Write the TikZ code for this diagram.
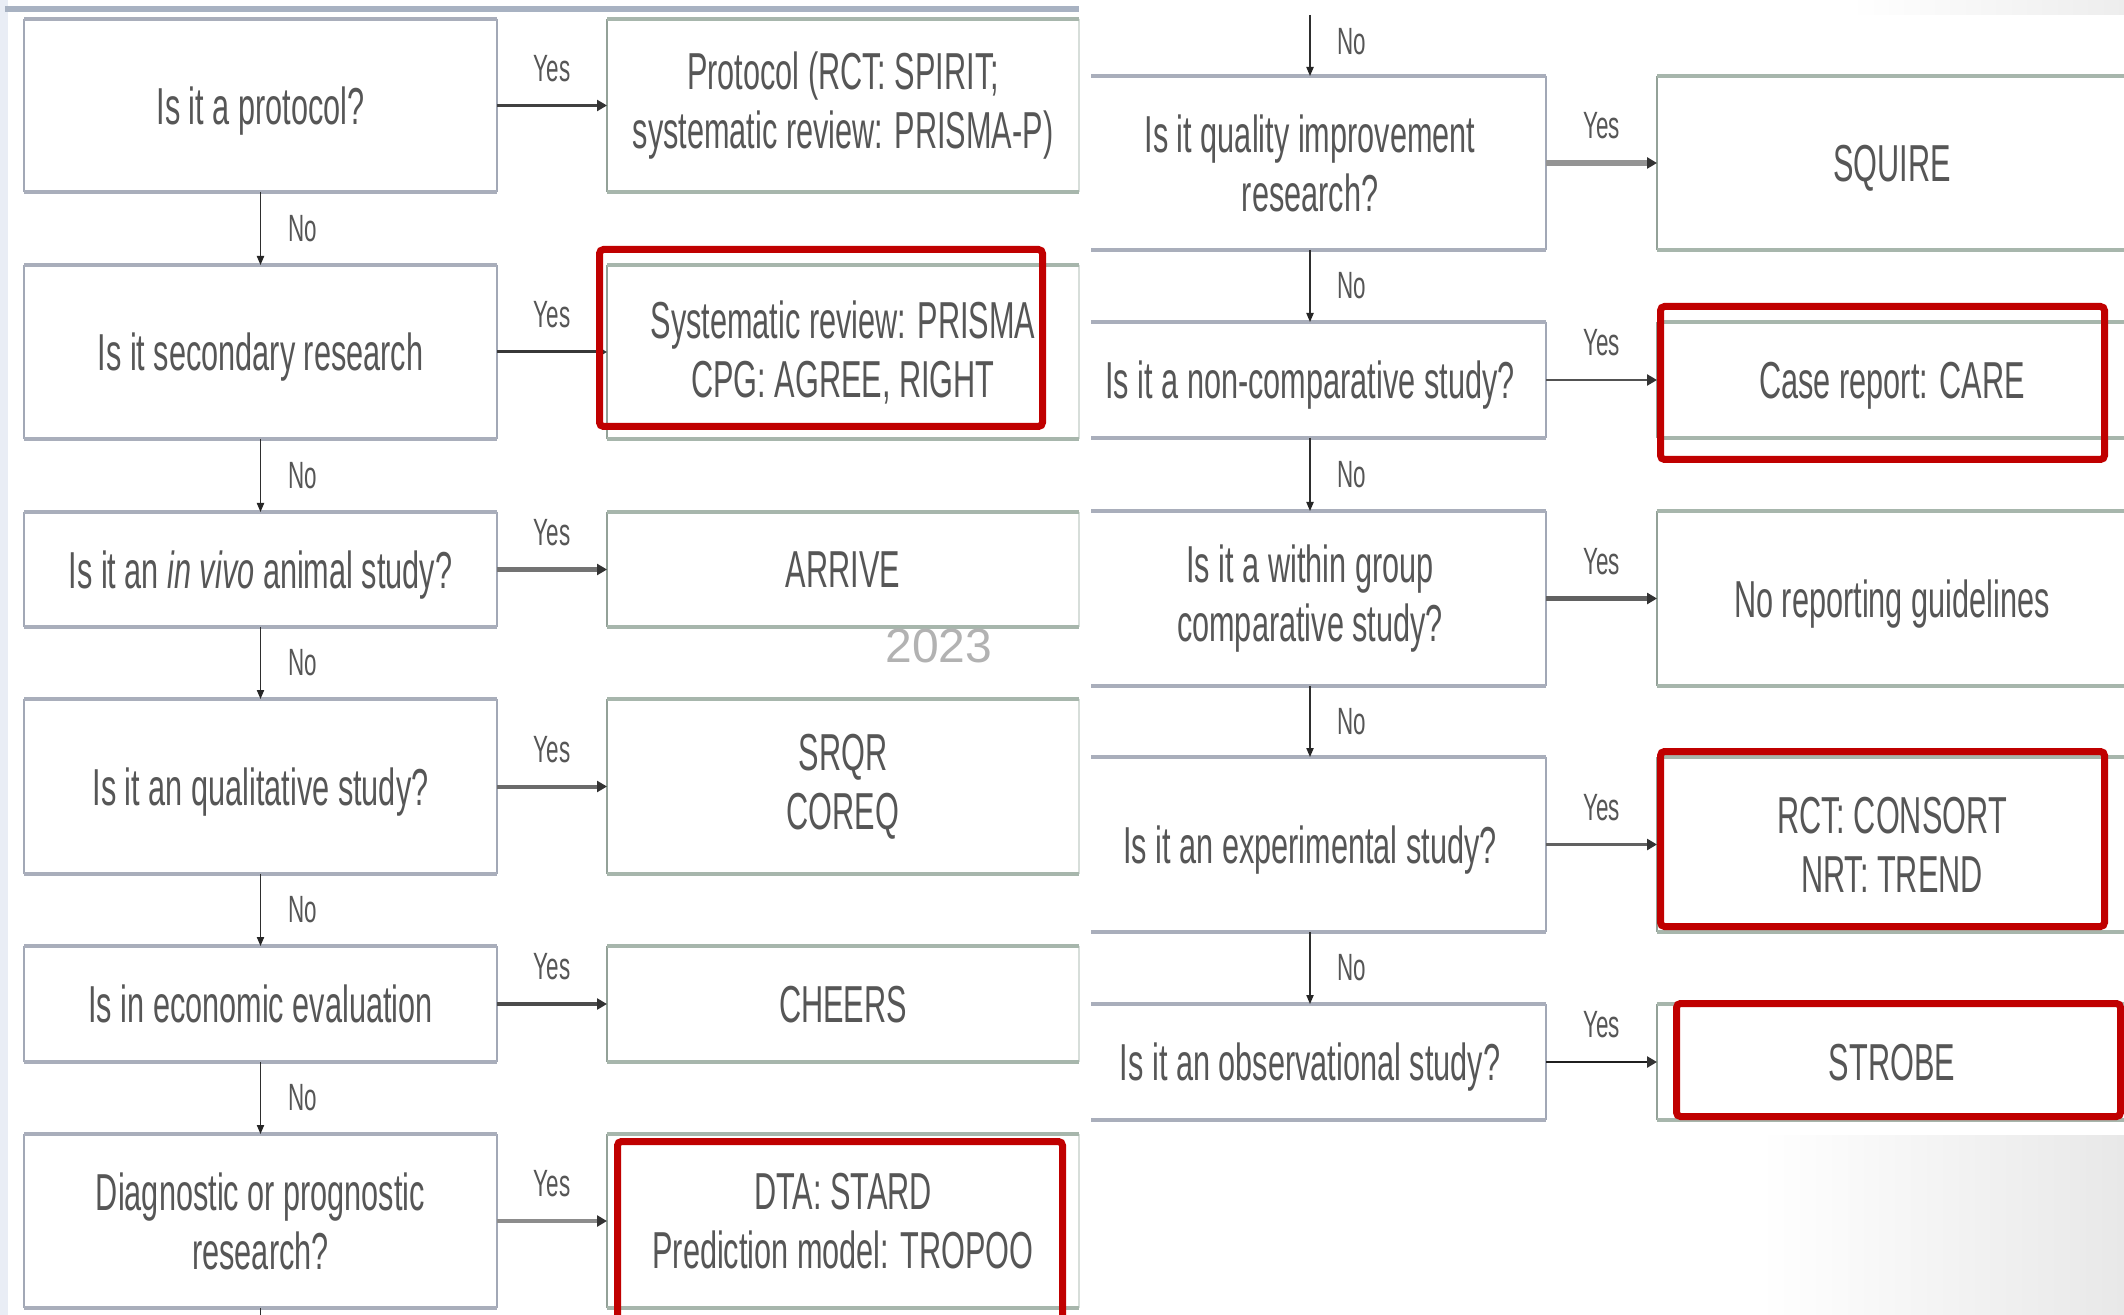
\documentclass[tikz,border=0pt]{standalone}
\usepackage{fontspec}
\usetikzlibrary{arrows.meta}
\newfontfamily\cnd{Liberation Sans}[FakeStretch=0.59]
\newfontfamily\plainsans{Liberation Sans}
\definecolor{txt}{HTML}{565656}
\definecolor{qline}{HTML}{A9AEBB}
\definecolor{qsidec}{HTML}{A2A8B6}
\definecolor{aline}{HTML}{A7B6AC}
\definecolor{asidec}{HTML}{93A198}
\definecolor{hl}{HTML}{C00000}
\definecolor{panelbar}{HTML}{A8B2C2}
\definecolor{edgestrip}{HTML}{E9EDF5}

\begin{document}
\begin{tikzpicture}[x=0.5pt,y=-0.5pt,
  every node/.style={inner sep=0pt, outer sep=0pt},
  boxtext/.style={align=center, text=txt, font=\cnd\fontsize{26}{29.5}\selectfont},
  oneline/.style={text depth=0pt},
  qn/.style={boxtext, minimum width=236.5pt},
  an/.style={boxtext, minimum width=236pt},
  rqn/.style={boxtext, minimum width=236pt},
  ran/.style={boxtext, minimum width=235pt},
  lbl/.style={text=txt, font=\cnd\fontsize{19}{22}\selectfont},
  qtb/.style={draw=qline, line width=1.75pt},
  qsd/.style={draw=qsidec, line width=1pt},
  atb/.style={draw=aline, line width=2pt},
  asd/.style={draw=asidec, line width=1pt},
  yesarr/.style={draw=black!72, line width=1.4pt,
    -{Triangle[length=5pt,width=5.5pt,color=black!80]}},
  noarr/.style={draw=black!82, line width=0.7pt,
    -{Triangle[length=4.5pt,width=3.6pt,color=black!85]}},
  hilite/.style={draw=hl, line width=3.5pt, rounded corners=2pt}]

\useasboundingbox (0,0) rectangle (2124,1315);
\clip (0,0) rectangle (2124,1315);
\fill[white] (0,0) rectangle (2124,1315);

% page background details
\fill[edgestrip] (0,0) rectangle (8,1315);
\fill[panelbar] (5,6) rectangle (1079,12);
\shade[left color=white, right color=black!7] (1850,0) rectangle (2124,15);
\shade[left color=white, right color=black!9] (1760,1135) rectangle (2124,1315);

% ---------- left column ----------
\node[qn, oneline, minimum height=86.5pt] (q1) at (260.5,105.5) {Is it a protocol?};
\node[an, minimum height=86.5pt] (a1) at (843,105.5) {Protocol (RCT: SPIRIT;\\systematic review: PRISMA-P)};
\node[qn, oneline, minimum height=87pt] (q2) at (260.5,352) {Is it secondary research};
\node[an, minimum height=87pt] (a2) at (843,352) {Systematic review: PRISMA\\CPG: AGREE, RIGHT};
\node[qn, oneline, minimum height=57.5pt] (q3) at (260.5,569.5) {Is it an \textit{in vivo} animal study?};
\node[an, oneline, minimum height=57.5pt] (a3) at (843,569.5) {ARRIVE};
\node[qn, oneline, minimum height=87.5pt] (q4) at (260.5,786.5) {Is it an qualitative study?};
\node[an, minimum height=87.5pt] (a4) at (843,786.5) {SRQR\\COREQ};
\node[qn, oneline, minimum height=58pt] (q5) at (260.5,1004) {Is in economic evaluation};
\node[an, oneline, minimum height=58pt] (a5) at (843,1004) {CHEERS};
\node[qn, minimum height=87pt] (q6) at (260.5,1221) {Diagnostic or prognostic\\research?};
\node[an, minimum height=87pt] (a6) at (843,1221) {DTA: STARD\\Prediction model: TROPOO};

% ---------- right column ----------
\node[rqn, minimum height=87pt] (r1) at (1310,163) {Is it quality improvement\\research?};
\node[ran, oneline, minimum height=87pt] (s1) at (1892,163) {SQUIRE};
\node[rqn, oneline, minimum height=58pt] (r2) at (1310,380) {Is it a non-comparative study?};
\node[ran, oneline, minimum height=58pt] (s2) at (1892,380) {Case report: CARE};
\node[rqn, minimum height=87.5pt] (r3) at (1310,598.5) {Is it a within group\\comparative study?};
\node[ran, oneline, minimum height=87.5pt] (s3) at (1892,598.5) {No reporting guidelines};
\node[rqn, oneline, minimum height=87.5pt] (r4) at (1310,844.5) {Is it an experimental study?};
\node[ran, minimum height=87.5pt] (s4) at (1892,844.5) {RCT: CONSORT\\NRT: TREND};
\node[rqn, oneline, minimum height=58pt] (r5) at (1310,1062) {Is it an observational study?};
\node[ran, oneline, minimum height=58pt] (s5) at (1892,1062) {STROBE};

% box frames: thin sides, heavier top and bottom rules
\foreach \n in {q1,q2,q3,q4,q5,q6} {
  \draw[qsd] (\n.north west) -- (\n.south west) (\n.north east) -- (\n.south east);
  \draw[qtb] (\n.north west) -- (\n.north east) (\n.south west) -- (\n.south east);
}
\foreach \n in {a1,a2,a3,a4,a5,a6} {
  \draw[asd] (\n.north west) -- (\n.south west);
  \draw[asd, draw=aline!45] (\n.north east) -- (\n.south east);
  \draw[atb] (\n.north west) -- (\n.north east) (\n.south west) -- (\n.south east);
}
\foreach \n in {r1,r2,r3,r4,r5} {
  \draw[qsd] (\n.north east) -- (\n.south east);
  \draw[qtb] ([xshift=8.5pt]\n.north west) -- (\n.north east)
             ([xshift=8.5pt]\n.south west) -- (\n.south east);
}
\foreach \n in {s1,s2,s3,s4,s5} {
  \draw[asd] (\n.north west) -- (\n.south west);
  \draw[atb] (\n.north west) -- (\n.north east) (\n.south west) -- (\n.south east);
}

% "Yes" branches
\draw[yesarr, draw=black!75, line width=1.2pt] (q1) -- node[lbl, yshift=18.5pt] {Yes} (a1);
\draw[yesarr, draw=black!78, line width=1.5pt] (q2) -- node[lbl, yshift=18.5pt] {Yes} (a2);
\draw[yesarr, draw=black!55, line width=2.2pt] (q3) -- node[lbl, yshift=18.5pt] {Yes} (a3);
\draw[yesarr, draw=black!58, line width=2pt]   (q4) -- node[lbl, yshift=18.5pt] {Yes} (a4);
\draw[yesarr, draw=black!70, line width=2.2pt] (q5) -- node[lbl, yshift=18.5pt] {Yes} (a5);
\draw[yesarr, draw=black!45, line width=2pt]   (q6) -- node[lbl, yshift=18.5pt] {Yes} (a6);
\draw[yesarr, draw=black!42, line width=2.6pt] (r1) -- node[lbl, yshift=18.5pt] {Yes} (s1);
\draw[yesarr, draw=black!68, line width=1.2pt] (r2) -- node[lbl, yshift=18.5pt] {Yes} (s2);
\draw[yesarr, draw=black!62, line width=2.2pt] (r3) -- node[lbl, yshift=18.5pt] {Yes} (s3);
\draw[yesarr, draw=black!62, line width=1.8pt] (r4) -- node[lbl, yshift=18.5pt] {Yes} (s4);
\draw[yesarr, draw=black!88, line width=1.4pt] (r5) -- node[lbl, yshift=18.5pt] {Yes} (s5);

% "No" branches
\draw[noarr] (q1) -- node[lbl, xshift=21pt] {No} (q2);
\draw[noarr] (q2) -- node[lbl, xshift=21pt] {No} (q3);
\draw[noarr] (q3) -- node[lbl, xshift=21pt] {No} (q4);
\draw[noarr] (q4) -- node[lbl, xshift=21pt] {No} (q5);
\draw[noarr] (q5) -- node[lbl, xshift=21pt] {No} (q6);
\coordinate (lout) at (260.5,1325);
\draw[draw=black!82, line width=0.7pt] (q6) -- (lout);

\coordinate (rin) at (1310,15);
\draw[noarr] (rin) -- node[lbl, xshift=21pt, yshift=2pt] {No} (r1);
\draw[noarr] (r1) -- node[lbl, xshift=21pt] {No} (r2);
\draw[noarr] (r2) -- node[lbl, xshift=21pt] {No} (r3);
\draw[noarr] (r3) -- node[lbl, xshift=21pt] {No} (r4);
\draw[noarr] (r4) -- node[lbl, xshift=21pt] {No} (r5);

% red highlight frames
\draw[hilite] (599.5,249.5) rectangle (1042.5,426.5);
\draw[hilite] (617.5,1141.5) rectangle (1062.5,1340);
\draw[hilite] (1660.5,306.5) rectangle (2104.5,459.5);
\draw[hilite] (1660.5,751.5) rectangle (2104.5,926.5);
\draw[hilite] (1676.5,1003.5) rectangle (2120.5,1116.5);

% year stamp
\node[text=black!30, font=\plainsans\fontsize{24}{24}\selectfont] (yr) at (939,646) {2023};
\end{tikzpicture}
\end{document}
